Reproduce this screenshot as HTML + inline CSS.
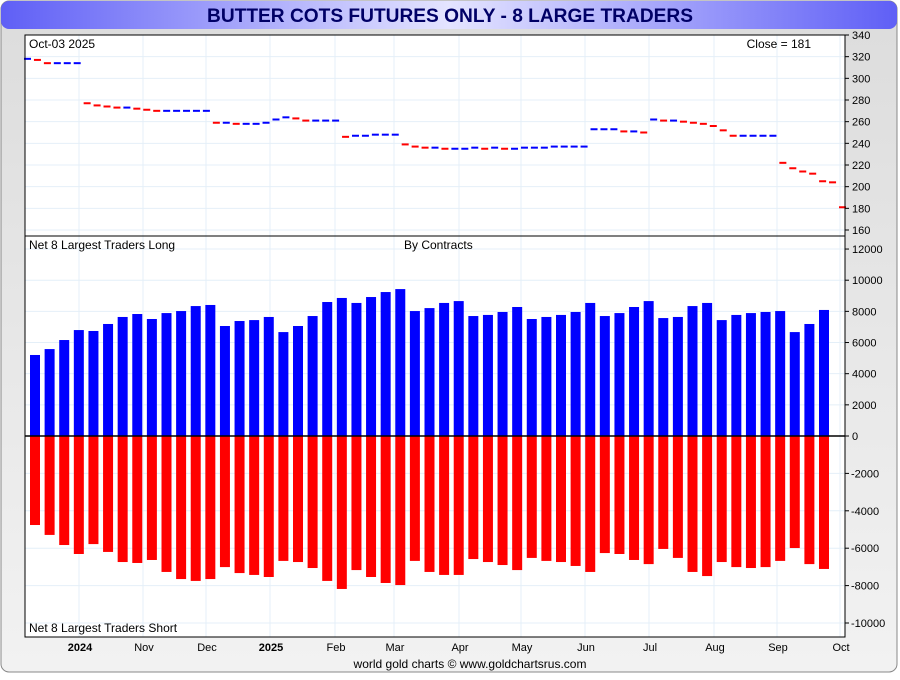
<!DOCTYPE html>
<html><head><meta charset="utf-8"><style>
body{margin:0;width:900px;height:675px;overflow:hidden;font-family:"Liberation Sans",sans-serif;background:#fff}
</style></head><body>
<svg width="900" height="675" viewBox="0 0 900 675" xmlns="http://www.w3.org/2000/svg">
<defs>
<linearGradient id="tg" x1="0" x2="1" y1="0" y2="0"><stop offset="0" stop-color="#5f5ff6"/><stop offset="0.5" stop-color="#e4e4ff"/><stop offset="1" stop-color="#5f5ff6"/></linearGradient>
<linearGradient id="bg" x1="0" x2="0" y1="0" y2="1"><stop offset="0" stop-color="#dcdcdc"/><stop offset="1" stop-color="#f2f2f2"/></linearGradient>
</defs>
<rect x="0" y="0" width="900" height="675" fill="#fff"/>
<rect x="1" y="1" width="896" height="671" rx="8" fill="url(#bg)" stroke="#888"/>
<rect x="1" y="1" width="896" height="28" rx="8" fill="url(#tg)"/>
<text x="450" y="22" text-anchor="middle" font-size="19" font-weight="bold" fill="#000066" textLength="486" lengthAdjust="spacingAndGlyphs">BUTTER COTS FUTURES ONLY - 8 LARGE TRADERS</text>
<rect x="25" y="35" width="820" height="602" fill="#fff"/>
<g id="grid"></g>
<g id="price"></g>
<g id="bars"></g>
<line x1="25" y1="436" x2="845" y2="436" stroke="#000" stroke-width="1.5"/>
<line x1="25" y1="236" x2="845" y2="236" stroke="#000"/>
<rect x="25" y="35" width="820" height="602" fill="none" stroke="#000"/>
<g id="axes" font-size="11" fill="#000"></g>
<text x="29" y="48" font-size="12">Oct-03  2025</text>
<text x="811" y="48" font-size="12" text-anchor="end">Close = 181</text>
<text x="29" y="249" font-size="12">Net 8 Largest Traders Long</text>
<text x="404" y="249" font-size="12">By Contracts</text>
<text x="29" y="632" font-size="12">Net 8 Largest Traders Short</text>
<text x="470" y="668" font-size="12" text-anchor="middle">world gold charts © www.goldchartsrus.com</text>
</svg>
<script>
const longVals=[5200,5580,6160,6800,6740,7190,7640,7830,7510,7890,8020,8340,8410,7060,7380,7440,7640,6670,7060,7700,8600,8860,8540,8920,9240,9430,8020,8210,8540,8660,7700,7770,7960,8280,7510,7640,7770,7960,8540,7700,7890,8280,8660,7570,7640,8340,8540,7440,7770,7890,7960,8020,6670,7190,8090];
const shortVals=[-4760,-5290,-5830,-6310,-5780,-6200,-6740,-6790,-6630,-7270,-7650,-7750,-7650,-7010,-7330,-7430,-7540,-6680,-6740,-7060,-7750,-8180,-7170,-7540,-7860,-7970,-6680,-7270,-7430,-7430,-6580,-6740,-6900,-7170,-6520,-6680,-6740,-6950,-7270,-6260,-6310,-6630,-6850,-6040,-6520,-7270,-7490,-6740,-7010,-7060,-7010,-6680,-5990,-6850,-7110];
const prices=[318,317,314,314,314,314,277,275,274,273,273,272,271,270,270,270,270,270,270,259,259,258,258,258,259,262,264,263,261,261,261,261,246,247,247,248,248,248,239,237,236,236,235,235,235,236,235,236,235,235,236,236,236,237,237,237,237,253,253,253,251,251,250,262,261,261,260,259,258,256,252,247,247,247,247,247,222,217,214,212,205,204,181];
const priceTicks=[160,180,200,220,240,260,280,300,320,340];
const cotTicks=[12000,10000,8000,6000,4000,2000,0,-2000,-4000,-6000,-8000,-10000];
const monthLabels=["2024","Nov","Dec","2025","Feb","Mar","Apr","May","Jun","Jul","Aug","Sep","Oct"];
const monthPos=[80,144,207,271,336,395,460,522,586,650,715,778,841];
const NS="http://www.w3.org/2000/svg";
function yP(v){return 35+(340-v)*195/180;}
function yC(v){return v>=0?436-v*15.58/1000:436-v*18.7/1000;}
function xBar(i){return 30+i*(789/(longVals.length-1));}
function xPrice(i){return 27+i*(815/(prices.length-1));}
function mk(tag,attrs,parent){const e=document.createElementNS(NS,tag);for(const k in attrs)e.setAttribute(k,attrs[k]);parent.appendChild(e);return e;}
const grid=document.getElementById('grid'),axes=document.getElementById('axes'),bars=document.getElementById('bars'),price=document.getElementById('price');
monthPos.forEach((x,i)=>{
  const l=mk('line',{x1:x-1,x2:x-1,y1:35,y2:637,stroke:'#e4eff8'},grid);
  
  
  const t=mk('text',{x:x,y:651,'text-anchor':'middle','font-size':11,'font-weight':(monthLabels[i].length===4?'bold':'normal')},axes);
  t.textContent=monthLabels[i];
  
  
});
priceTicks.forEach(v=>{
  const y=yP(v);
  const l=mk('line',{x1:25,x2:845,y1:y,y2:y,stroke:'#e4eff8'},grid);
  
  
  mk('line',{x1:845,x2:849,y1:y,y2:y,stroke:'#000'},axes);
  const t=mk('text',{x:852,y:y+4},axes);
  t.textContent=v;
  
  
});
cotTicks.forEach(v=>{
  const y=yC(v);
  const l=mk('line',{x1:25,x2:845,y1:y,y2:y,stroke:'#e4eff8'},grid);
  
  
  mk('line',{x1:845,x2:849,y1:y,y2:y,stroke:'#000'},axes);
  const t=mk('text',{x:v<0?851:852,y:y+4},axes);
  t.textContent=v<0?'-'+Math.abs(v):String(v);
  
  
});
longVals.forEach((v,i)=>{
  const x=xBar(i),y=yC(v);
  const r=mk('rect',{x:x,y:y,width:10,height:436-y,fill:'#0000ff'},bars);
  
  
});
shortVals.forEach((v,i)=>{
  const x=xBar(i),y=yC(v);
  const r=mk('rect',{x:x,y:436,width:10,height:y-436,fill:'#ff0000'},bars);
  
  
});
prices.forEach((v,i)=>{
  const x=xPrice(i),y=yP(v);
  const down=i>0&&v<prices[i-1];
  const r=mk('rect',{x:x-3,y:y-1,width:7,height:2,fill:down?'#ff0000':'#0000ff'},price);
  
  
});
</script>
</body></html>
